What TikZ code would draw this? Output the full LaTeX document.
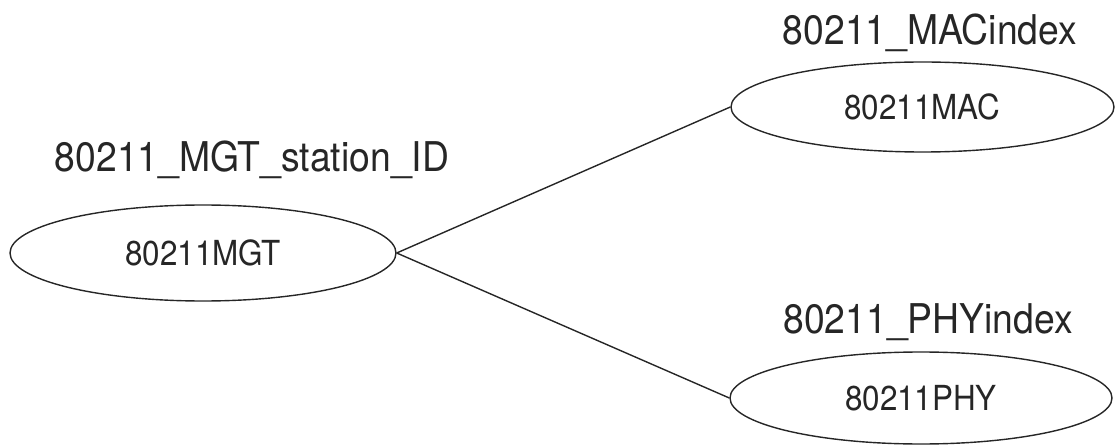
\documentclass[tikz,border=0pt]{standalone}
\usepackage{fontspec}
\setmainfont{TeX Gyre Heros}[FakeStretch=0.91]
\usetikzlibrary{shapes.geometric}
\definecolor{inkc}{HTML}{262626}
\begin{document}
\begin{tikzpicture}[x=1pt,y=-1pt,
  ent/.style={ellipse,draw=inkc,line width=1.4pt,inner sep=0pt,
    font=\fontsize{34.5}{40}\selectfont,text=inkc},
  lab/.style={anchor=base,inner sep=0pt,font=\fontsize{41}{48}\selectfont,text=inkc},
  link/.style={draw=inkc,line width=1.4pt}]
\useasboundingbox (0,0) rectangle (1116,446);
\node[ent,minimum width=386pt,minimum height=96pt] (mgt) at (203,253) {80211MGT};
\node[ent,minimum width=383pt,minimum height=90pt] (mac) at (922.5,107) {80211MAC};
\node[ent,minimum width=382pt,minimum height=92pt] (phy) at (921,398) {80211PHY};
\node[lab] (lmgt) at (252,172) {80211\_MGT\_station\_ID};
\node[lab] (lmac) at (930,45) {80211\_MACindex};
\node[lab] (lphy) at (928,333) {80211\_PHYindex};
\draw[link] (mgt.east) -- (mac.west);
\draw[link] (mgt.east) -- (phy.west);
\end{tikzpicture}
\end{document}
